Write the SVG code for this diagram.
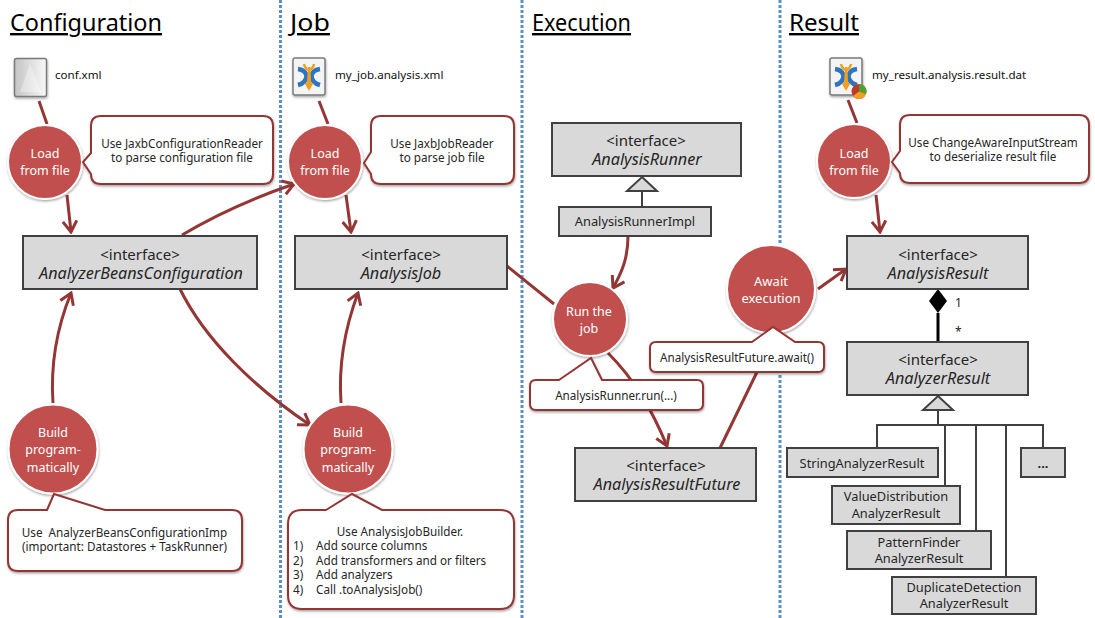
<svg xmlns="http://www.w3.org/2000/svg" width="1095" height="618" viewBox="0 0 1095 618">
<style>
text{font-family:"Noto Sans","Open Sans","Liberation Sans",sans-serif;fill:#262626}
.title{font-size:24px;fill:#000;text-decoration:underline}
.file{font-size:11.6px;fill:#111}
.sep{fill:none;stroke:#5b8fc9;stroke-width:3;stroke-dasharray:3 2}
.conn{fill:none;stroke:#943634;stroke-width:3}
.box{fill:#d9d9d9;stroke:#404040;stroke-width:2}
.line{fill:none;stroke:#404040;stroke-width:2}
.tri{fill:#d9d9d9;stroke:#404040;stroke-width:2}
.circ{fill:#c0504d;stroke:#fff;stroke-width:2;filter:url(#sh)}
.call{fill:#fff;stroke:#943634;stroke-width:2;filter:url(#sh)}
.ct{font-size:12.5px;fill:#fff;text-anchor:middle}
.bt{font-size:15px;text-anchor:middle}
.bi{font-size:16.2px;text-anchor:middle;font-style:italic}
.st{font-size:12.8px;text-anchor:middle}
.sl{font-size:11.7px}
.cs{font-size:11.7px;text-anchor:middle;white-space:pre}
</style>
<defs>
<filter id="sh" x="-20%" y="-20%" width="140%" height="140%"><feDropShadow dx="0.5" dy="1.5" stdDeviation="1.2" flood-color="#000" flood-opacity="0.35"/></filter>
<marker id="arr" markerUnits="userSpaceOnUse" viewBox="-14 -9 16 18" refX="0" refY="0" markerWidth="16" markerHeight="18" orient="auto"><path d="M-11,-7 L0,0 L-11,7" fill="none" stroke="#943634" stroke-width="3"/></marker>
<linearGradient id="doc" x1="0" y1="0" x2="1" y2="0"><stop offset="0" stop-color="#c4c4c4"/><stop offset="1" stop-color="#f8f8f8"/></linearGradient>
<g id="sheet"><rect x="0" y="0" width="32" height="37" rx="2" fill="#f4f4f4" stroke="#7a7a7a" stroke-width="1.5" filter="url(#sh)"/></g>
<g id="dc"><path d="M5,11 Q13,12 13.5,18.5 Q13,25 5,27" fill="none" stroke="#2f74c0" stroke-width="4.5"/><path d="M27,11 Q19,12 18.5,18.5 Q19,25 27,27" fill="none" stroke="#2f74c0" stroke-width="4.5"/><path d="M15,9 L17.5,9 L18,25 L20.5,25 L16,33 L11.5,25 L14,25Z" fill="#f0a020"/><path d="M11,6 Q12,11 16,12 Q20,11 21,6" fill="none" stroke="#f0a020" stroke-width="2.5"/></g>
</defs>
<g id="separators">
<line class="sep" x1="280.5" y1="0" x2="280.5" y2="618"/>
<line class="sep" x1="522" y1="0" x2="522" y2="618"/>
<line class="sep" x1="780" y1="0" x2="780" y2="618"/>
</g>
<g id="titles">
<text class="title" x="10" y="31" textLength="152" lengthAdjust="spacingAndGlyphs">Configuration</text>
<text class="title" x="290" y="31" textLength="40" lengthAdjust="spacingAndGlyphs">Job</text>
<text class="title" x="532" y="31" textLength="99" lengthAdjust="spacingAndGlyphs">Execution</text>
<text class="title" x="789" y="31" textLength="70" lengthAdjust="spacingAndGlyphs">Result</text>
</g>
<g id="connectors">
<path class="conn" d="M39,101 L47,124"/>
<path class="conn" marker-end="url(#arr)" d="M67,195 L71,232"/>
<path class="conn" d="M319,101 L328,124"/>
<path class="conn" marker-end="url(#arr)" d="M346,195 L351,232"/>
<path class="conn" d="M848,100 L857,123"/>
<path class="conn" marker-end="url(#arr)" d="M876,195 L880,232"/>
<path class="conn" marker-end="url(#arr)" d="M182,235 Q230,206 294,184"/>
<path class="conn" marker-end="url(#arr)" d="M180,289 C205,340 255,388 310,425"/>
<path class="conn" marker-end="url(#arr)" d="M53,403 C50,360 58,325 71,293"/>
<path class="conn" marker-end="url(#arr)" d="M341,403 C338,360 346,325 358,293"/>
<path class="conn" d="M507,266 L554,304"/>
<path class="conn" marker-end="url(#arr)" d="M628,236 C628,258 622,272 613,288"/>
<path class="conn" marker-end="url(#arr)" d="M608,353 C635,380 652,410 667,446"/>
<path class="conn" d="M720,448 L758,370"/>
<path class="conn" marker-end="url(#arr)" d="M818,289 L846,269"/>
</g>
<g id="uml-connectors">
<path class="line" d="M642,191 V207"/>
<path class="tri" d="M642,177 L657,191 H627Z"/>
<path d="M938,313 V342" fill="none" stroke="#000" stroke-width="3"/>
<path d="M938,289 L947,301 L938,313 L929,301Z" fill="#000"/>
<path class="line" d="M938,410 V425 M877,447 V425 H1043 V447 M945,425 V486 M976,425 V531 M1006,425 V577"/>
<path class="tri" d="M938,396 L953,410 H923Z"/>
</g>
<g id="file-conf"><rect x="14.5" y="58.5" width="32" height="38" rx="2" fill="url(#doc)" stroke="#7a7a7a" stroke-width="1.5" filter="url(#sh)"/><path d="M30,64 L41,92 H20Z" fill="#fff" opacity="0.35"/><text class="file" x="55" y="79">conf.xml</text></g>
<g id="file-job"><use href="#sheet" x="293" y="58"/><use href="#dc" x="293" y="58"/><text class="file" x="335" y="79">my_job.analysis.xml</text></g>
<g id="file-result"><use href="#sheet" x="830" y="58"/><use href="#dc" x="830" y="58"/><circle cx="859" cy="91.5" r="7.5" fill="#c0392b"/><path d="M859,91.5 V84 A7.5,7.5 0 0 1 866,94Z" fill="#4da32f"/><path d="M859,91.5 L866,94 A7.5,7.5 0 0 1 853,96Z" fill="#f0a020"/><text class="file" x="872" y="79">my_result.analysis.result.dat</text></g>

<g id="load-conf"><circle class="circ" cx="45" cy="162" r="37"/><text class="ct" x="45" y="158">Load</text><text class="ct" x="45" y="175">from file</text></g>
<g id="note-conf"><path class="call" d="M101,116 H263 Q273,116 273,126 V174 Q273,184 263,184 H101 Q91,184 91,174 L83,162 L91,153 V126 Q91,116 101,116Z"/><text class="cs" x="182" y="148">Use JaxbConfigurationReader</text><text class="cs" x="182" y="162">to parse configuration file</text></g>
<g id="load-job"><circle class="circ" cx="325" cy="162" r="37"/><text class="ct" x="325" y="158">Load</text><text class="ct" x="325" y="175">from file</text></g>
<g id="note-job"><path class="call" d="M381,116 H504 Q514,116 514,126 V174 Q514,184 504,184 H381 Q371,184 371,174 L364,163 L371,152 V126 Q371,116 381,116Z"/><text class="cs" x="442" y="148">Use JaxbJobReader</text><text class="cs" x="442" y="162">to parse job file</text></g>
<g id="load-result"><circle class="circ" cx="854" cy="161" r="37"/><text class="ct" x="854" y="158">Load</text><text class="ct" x="854" y="175">from file</text></g>
<g id="note-result"><path class="call" d="M910,115 H1079 Q1089,115 1089,125 V173 Q1089,183 1079,183 H910 Q900,183 900,173 L892,162 L900,151 V125 Q900,115 910,115Z"/><text class="cs" x="993" y="147">Use ChangeAwareInputStream</text><text class="cs" x="993" y="161">to deserialize result file</text></g>

<g id="box-config"><rect class="box" x="23" y="236" width="234" height="53"/><text class="bt" x="140" y="260">&lt;interface&gt;</text><text class="bi" x="141" y="279">AnalyzerBeansConfiguration</text></g>
<g id="box-job"><rect class="box" x="295" y="236" width="212" height="53"/><text class="bt" x="401" y="260">&lt;interface&gt;</text><text class="bi" x="401" y="279">AnalysisJob</text></g>
<g id="box-result"><rect class="box" x="847" y="236" width="181" height="53"/><text class="bt" x="938" y="260">&lt;interface&gt;</text><text class="bi" x="938" y="279">AnalysisResult</text></g>
<g id="box-runner"><rect class="box" x="552" y="123" width="189" height="53"/><text class="bt" x="646" y="146">&lt;interface&gt;</text><text class="bi" x="647" y="165">AnalysisRunner</text></g>
<g id="box-impl"><rect class="box" x="559" y="207" width="152" height="29"/><text class="st" x="635" y="226">AnalysisRunnerImpl</text></g>
<g id="box-future"><rect class="box" x="575" y="448" width="181" height="53"/><text class="bt" x="666" y="471">&lt;interface&gt;</text><text class="bi" x="667" y="490">AnalysisResultFuture</text></g>
<g id="box-analyzer"><rect class="box" x="847" y="342" width="181" height="53"/><text class="bt" x="938" y="365">&lt;interface&gt;</text><text class="bi" x="938" y="384">AnalyzerResult</text></g>

<g id="build-conf"><circle class="circ" cx="53" cy="449" r="44.500"/><text class="ct" x="53" y="437">Build</text><text class="ct" x="53" y="454">program-</text><text class="ct" x="53" y="472">matically</text></g>
<g id="note-build-conf"><path class="call" d="M47,510 L54,494 L105,510 H232 Q242,510 242,520 V561 Q242,571 232,571 H18 Q8,571 8,561 V520 Q8,510 18,510Z"/><text class="cs" x="124.500" y="537">Use  AnalyzerBeansConfigurationImp</text><text class="cs" x="124.500" y="551">(important: Datastores + TaskRunner)</text></g>
<g id="build-job"><circle class="circ" cx="348" cy="449" r="44.500"/><text class="ct" x="348" y="437">Build</text><text class="ct" x="348" y="454">program-</text><text class="ct" x="348" y="472">matically</text></g>
<g id="note-build-job"><path class="call" d="M326,510 L352,494 L382,510 H500 Q514,510 514,524 V595 Q514,609 500,609 H302 Q288,609 288,595 V524 Q288,510 302,510Z"/><text class="cs" x="400" y="536">Use AnalysisJobBuilder.</text>
<text class="sl" x="293" y="550">1)</text><text class="sl" x="316" y="550">Add source columns</text>
<text class="sl" x="293" y="565">2)</text><text class="sl" x="316" y="565">Add transformers and or filters</text>
<text class="sl" x="293" y="579">3)</text><text class="sl" x="316" y="579">Add analyzers</text>
<text class="sl" x="293" y="594">4)</text><text class="sl" x="316" y="594">Call .toAnalysisJob()</text></g>

<g id="run"><circle class="circ" cx="590" cy="319" r="37"/><text class="ct" x="589" y="316">Run the</text><text class="ct" x="589" y="333">job</text></g>
<g id="note-run"><path class="call" d="M559,380 L591,358 L602,380 H697 Q703,380 703,386 V404 Q703,410 697,410 H536 Q530,410 530,404 V386 Q530,380 536,380Z"/><text class="cs" x="616" y="400">AnalysisRunner.run(...)</text></g>
<g id="await"><circle class="circ" cx="771" cy="289" r="44"/><text class="ct" x="771" y="286" style="font-size:13px">Await</text><text class="ct" x="771" y="303" style="font-size:13px">execution</text></g>
<g id="note-await"><path class="call" d="M752,342 L773,327 L795,342 H818 Q824,342 824,348 V366 Q824,372 818,372 H656 Q650,372 650,366 V348 Q650,342 656,342Z"/><text class="cs" x="737" y="362">AnalysisResultFuture.await()</text></g>

<g id="mult"><text x="955" y="307" style="font-size:12px;fill:#222">1</text><text x="955" y="336" style="font-size:12px;fill:#222">*</text></g>
<g id="box-string"><rect class="box" x="787" y="448" width="151" height="29"/><text class="st" x="862" y="468">StringAnalyzerResult</text></g>
<g id="box-dots"><rect class="box" x="1021" y="448" width="44" height="29"/><text class="st" x="1043" y="468" style="font-weight:bold">...</text></g>
<g id="box-value"><rect class="box" x="832" y="486" width="128" height="38"/><text class="st" x="896" y="501">ValueDistribution</text><text class="st" x="896" y="518">AnalyzerResult</text></g>
<g id="box-pattern"><rect class="box" x="847" y="531" width="144" height="38"/><text class="st" x="919" y="547">PatternFinder</text><text class="st" x="919" y="563">AnalyzerResult</text></g>
<g id="box-duplicate"><rect class="box" x="892" y="577" width="144" height="37"/><text class="st" x="964" y="592">DuplicateDetection</text><text class="st" x="964" y="608">AnalyzerResult</text></g>
</svg>
